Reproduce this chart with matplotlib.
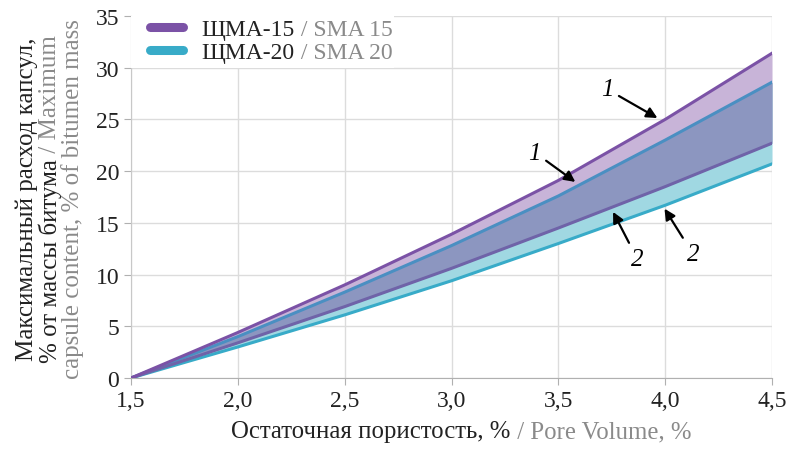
import numpy as np
import matplotlib
matplotlib.use("Agg")
import matplotlib.pyplot as plt
from matplotlib.patches import Rectangle

# data
porosity = [1.5, 2.0, 2.5, 3.0, 3.5, 4.0, 4.5]
sma15_max = [0, 4.4, 9.0, 13.9, 19.1, 25.0, 31.4]
sma15_min = [0, 3.4, 6.9, 10.6, 14.5, 18.5, 22.7]
sma20_max = [0, 4.0, 8.3, 12.8, 17.6, 23.0, 28.6]
sma20_min = [0, 3.0, 6.1, 9.4, 13.0, 16.7, 20.7]
xticks = [1.5, 2.0, 2.5, 3.0, 3.5, 4.0, 4.5]
xticklabels = ["1,5", "2,0", "2,5", "3,0", "3,5", "4,0", "4,5"]
yticks = [0, 5, 10, 15, 20, 25, 30, 35]

purple = "#7b52a6"
cyan = "#38abc8"
purple_fill = "#c8b4d8"
cyan_fill = "#a0d8e2"
overlap_fill = "#8c96c0"
gray = "#8a8a8a"
black = "#222222"

plt.rcParams['font.family'] = ['Liberation Serif', 'DejaVu Serif']

fig = plt.figure(figsize=(7.91, 4.52), dpi=100)
ax = fig.add_axes([0.1656, 0.1615, 0.8104, 0.8009])

x = np.array(porosity)
p_hi, p_lo = np.array(sma15_max), np.array(sma15_min)
c_hi, c_lo = np.array(sma20_max), np.array(sma20_min)

ax.fill_between(x, p_lo, p_hi, color=purple_fill, lw=0, zorder=2)
ax.fill_between(x, c_lo, c_hi, color=cyan_fill, lw=0, zorder=2)
ax.fill_between(x, np.maximum(p_lo, c_lo), np.minimum(p_hi, c_hi),
                color=overlap_fill, lw=0, zorder=3)

ax.plot(x, c_lo, color=cyan, lw=2.2, zorder=4)
ax.plot(x, c_hi, color="#4a8fc2", lw=2.2, zorder=4)
ax.plot(x, p_lo, color="#6f63a8", lw=2.2, zorder=4)
ax.plot(x, p_hi, color=purple, lw=2.2, zorder=4)

ax.set_xlim(1.5, 4.5)
ax.set_ylim(0, 35)
ax.set_xticks(xticks)
ax.set_xticklabels(xticklabels)
ax.set_yticks(yticks)
ax.tick_params(labelsize=17, colors=black, length=5, color="#b0b0b0")
ax.grid(True, color="#dcdcdc", lw=1, zorder=0)
ax.set_axisbelow(True)
for s in ["top", "right"]:
    ax.spines[s].set_visible(False)
ax.spines["left"].set_color("#c8c8c8")
ax.spines["bottom"].set_color("#b0b0b0")

# arrows with curve numbers
arr = dict(arrowstyle="-|>", color="black", lw=1.6, mutation_scale=16, shrinkA=2)
ax.annotate("1", xy=(3.975, 25.0), xytext=(3.73, 27.9), fontsize=18, style="italic",
            ha="center", va="center", arrowprops=arr, zorder=6)
ax.annotate("1", xy=(3.59, 18.8), xytext=(3.39, 21.8), fontsize=18, style="italic",
            ha="center", va="center", arrowprops=arr, zorder=6)
ax.annotate("2", xy=(3.75, 16.3), xytext=(3.87, 11.5), fontsize=18, style="italic",
            ha="center", va="center", arrowprops=arr, zorder=6)
ax.annotate("2", xy=(3.99, 16.6), xytext=(4.13, 12.0), fontsize=18, style="italic",
            ha="center", va="center", arrowprops=arr, zorder=6)

# legend: white box over the grid, handles, then two-coloured labels
ax.add_patch(Rectangle((0.0, 0.855), 0.41, 0.145, transform=ax.transAxes,
                       facecolor="white", edgecolor="none", zorder=5))
ax.plot([], [], color=purple, lw=6.5, solid_capstyle="round", label="ЩМА-15")
ax.plot([], [], color=cyan, lw=6.5, solid_capstyle="round", label="ЩМА-20")
leg = ax.legend(loc="upper left", bbox_to_anchor=(0.0, 1.045), fontsize=17,
                frameon=False, handlelength=1.4, handletextpad=0.8,
                labelspacing=0.05, borderpad=0.3)
leg.set_zorder(6)
for t in leg.get_texts():
    t.set_color(black)

fs = 18
xl_black = fig.text(0, 0.03, "Остаточная пористость, %", fontsize=17.8, color=black,
                    ha="left", va="baseline")
xl_gray = fig.text(0, 0.03, " / Pore Volume, %", fontsize=17.8, color=gray,
                   ha="left", va="baseline")
yl1 = fig.text(0.034, 0.56, "Максимальный расход капсул,", fontsize=fs,
               color=black, rotation=90, ha="center", va="center")
yl2_black = fig.text(0.063, 0, "% от массы битума", fontsize=fs, color=black,
                     rotation=90, ha="center", va="bottom")
yl2_gray = fig.text(0.063, 0, " / Maximum", fontsize=fs, color=gray,
                    rotation=90, ha="center", va="bottom")
yl3 = fig.text(0.092, 0.56, "capsule content, % of bitumen mass", fontsize=fs,
               color=gray, rotation=90, ha="center", va="center")

fig.canvas.draw()
inv = fig.transFigure.inverted()
W, H = fig.bbox.width, fig.bbox.height

# x label: two pieces side by side
w1 = xl_black.get_window_extent().width / W
w2 = xl_gray.get_window_extent().width / W
xc = 0.583
xl_black.set_x(xc - 0.5 * (w1 + w2))
xl_gray.set_x(xc - 0.5 * (w1 + w2) + w1)

# second y label line, stacked upward
h1 = yl2_black.get_window_extent().height / H
h2 = yl2_gray.get_window_extent().height / H
yc = 0.56
yl2_black.set_y(yc - 0.5 * (h1 + h2))
yl2_gray.set_y(yc - 0.5 * (h1 + h2) + h1)

# gray parts of the legend labels
for t, suffix in zip(leg.get_texts(), [" / SMA 15", " / SMA 20"]):
    bb = t.get_window_extent()
    px, py = t.get_transform().transform(t.get_position())
    fx, fy = inv.transform([bb.x1, py])
    fig.text(fx, fy, suffix, fontsize=t.get_fontsize(), color=gray,
             ha="left", va=t.get_va(), zorder=10)

fig.savefig("out.png", dpi=100)
